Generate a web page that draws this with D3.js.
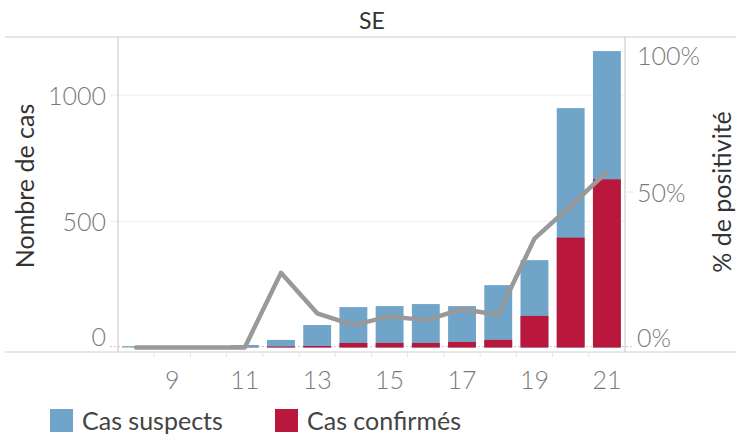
<!DOCTYPE html>
<html>
<head>
<meta charset="utf-8">
<script src="https://cdn.jsdelivr.net/npm/d3@7"></script>
<style>
  body { margin: 0; background: #fff; }
  svg text { font-family: Lato, "Open Sans", sans-serif; }
</style>
</head>
<body>
<div id="chart"></div>
<script>
// Data
const weeks = [8, 9, 10, 11, 12, 13, 14, 15, 16, 17, 18, 19, 20, 21];
const suspects = [5, 2, 1, 10, 30, 89, 160, 164, 172, 164, 247, 346, 948, 1174];
const confirmed = [0, 0, 0, 1, 4, 6, 18, 18, 18, 22, 30, 125, 435, 666];
const positivity = [0, 0, 0, 0, 0.24, 0.11, 0.072, 0.10, 0.088, 0.123, 0.105, 0.35, 0.455, 0.565];
const xTickLabels = [9, 11, 13, 15, 17, 19, 21];
const leftTicks = [0, 500, 1000];
const rightTicks = [0, 0.5, 1];

const width = 736, height = 436;
const plotLeft = 118, plotRight = 625, plotTop = 37, plotBottom = 352;

const svg = d3.select("#chart").append("svg")
  .attr("width", width)
  .attr("height", height);

// scales
const x = d3.scaleBand().domain(weeks).range([plotLeft, plotRight]);
const yLeft = d3.scaleLinear().domain([0, 1000]).range([347.5, 95]);
const yRight = d3.scaleLinear().domain([0, 1]).range([347.5, 36.5]);
const barW = x.bandwidth() * 0.77;

// title
svg.append("text")
  .attr("x", 372).attr("y", 29)
  .attr("text-anchor", "middle")
  .attr("font-size", 23)
  .attr("fill", "#333")
  .text("SE");

// gridlines (left axis)
svg.append("g")
  .selectAll("line")
  .data(leftTicks.filter(d => d > 0))
  .join("line")
  .attr("x1", 110).attr("x2", plotRight)
  .attr("y1", d => yLeft(d)).attr("y2", d => yLeft(d))
  .attr("stroke", "#ececec").attr("stroke-width", 1);

// zero line, dotted
svg.append("line")
  .attr("x1", 110).attr("x2", 633)
  .attr("y1", yLeft(0) - 1).attr("y2", yLeft(0) - 1)
  .attr("stroke", "#c8c8c8")
  .attr("stroke-dasharray", "2,2");

// frame lines
const frame = svg.append("g").attr("stroke", "#cfcfcf").attr("stroke-width", 1.2);
frame.append("line").attr("x1", 5).attr("x2", width).attr("y1", plotTop).attr("y2", plotTop);
frame.append("line").attr("x1", 5).attr("x2", width).attr("y1", plotBottom).attr("y2", plotBottom);
frame.append("line").attr("x1", plotLeft).attr("x2", plotLeft).attr("y1", plotTop).attr("y2", plotBottom);
frame.append("line").attr("x1", plotRight).attr("x2", plotRight).attr("y1", plotTop).attr("y2", plotBottom);

// x tick marks at band edges
svg.append("g")
  .selectAll("line")
  .data(weeks.slice(1))
  .join("line")
  .attr("x1", d => x(d)).attr("x2", d => x(d))
  .attr("y1", plotBottom + 1).attr("y2", plotBottom + 5)
  .attr("stroke", "#e4e4e4");

// right axis tick at 50%
svg.append("line")
  .attr("x1", plotRight).attr("x2", plotRight + 8)
  .attr("y1", yRight(0.5)).attr("y2", yRight(0.5))
  .attr("stroke", "#e4e4e4");

// bars: suspects
svg.append("g")
  .selectAll("rect")
  .data(weeks)
  .join("rect")
  .attr("x", d => x(d) + (x.bandwidth() - barW) / 2)
  .attr("width", barW)
  .attr("y", (d, i) => yLeft(suspects[i]))
  .attr("height", (d, i) => yLeft(0) - yLeft(suspects[i]))
  .attr("fill", "#71a4c9");

// bars: confirmed
svg.append("g")
  .selectAll("rect")
  .data(weeks)
  .join("rect")
  .attr("x", d => x(d) + (x.bandwidth() - barW) / 2)
  .attr("width", barW)
  .attr("y", (d, i) => yLeft(confirmed[i]))
  .attr("height", (d, i) => yLeft(0) - yLeft(confirmed[i]))
  .attr("fill", "#b9173b");

// positivity line
const line = d3.line()
  .x((d, i) => x(weeks[i]) + x.bandwidth() / 2)
  .y(d => yRight(d));
svg.append("path")
  .datum(positivity)
  .attr("d", line)
  .attr("fill", "none")
  .attr("stroke", "#999")
  .attr("stroke-width", 4.5)
  .attr("stroke-linejoin", "round")
  .attr("stroke-linecap", "round");

// left tick labels
svg.append("g")
  .selectAll("text")
  .data(leftTicks)
  .join("text")
  .attr("x", 106)
  .attr("y", d => d === 0 ? yLeft(d) - 2 : yLeft(d) + 10)
  .attr("text-anchor", "end")
  .attr("font-size", 25)
  .attr("font-weight", 300)
  .attr("fill", "#7a7a7a")
  .text(d => d);

// right tick labels
svg.append("g")
  .selectAll("text")
  .data(rightTicks)
  .join("text")
  .attr("x", 637)
  .attr("y", d => d === 0 ? yRight(d) - 1 : d === 1 ? yRight(d) + 28 : yRight(d) + 10)
  .attr("font-size", 25)
  .attr("font-weight", 300)
  .attr("fill", "#7a7a7a")
  .text(d => d3.format(".0%")(d));

// x tick labels
svg.append("g")
  .selectAll("text")
  .data(xTickLabels)
  .join("text")
  .attr("x", d => x(d) + x.bandwidth() / 2)
  .attr("y", 389)
  .attr("text-anchor", "middle")
  .attr("font-size", 25)
  .attr("font-weight", 300)
  .attr("fill", "#7a7a7a")
  .text(d => d);

// axis titles
svg.append("text")
  .attr("transform", "translate(34,186) rotate(-90)")
  .attr("text-anchor", "middle")
  .attr("font-size", 25)
  .attr("fill", "#333")
  .text("Nombre de cas");

svg.append("text")
  .attr("transform", "translate(731,192) rotate(-90)")
  .attr("text-anchor", "middle")
  .attr("font-size", 25)
  .attr("fill", "#333")
  .text("% de positivité");

// legend
const legend = [
  { label: "Cas suspects", color: "#71a4c9", x: 50 },
  { label: "Cas confirmés", color: "#b9173b", x: 275 }
];
const lg = svg.append("g").selectAll("g").data(legend).join("g")
  .attr("transform", d => `translate(${d.x},409)`);
lg.append("rect").attr("width", 23).attr("height", 23).attr("fill", d => d.color);
lg.append("text")
  .attr("x", 32).attr("y", 21)
  .attr("font-size", 25)
  .attr("fill", "#444")
  .text(d => d.label);
</script>
</body>
</html>
